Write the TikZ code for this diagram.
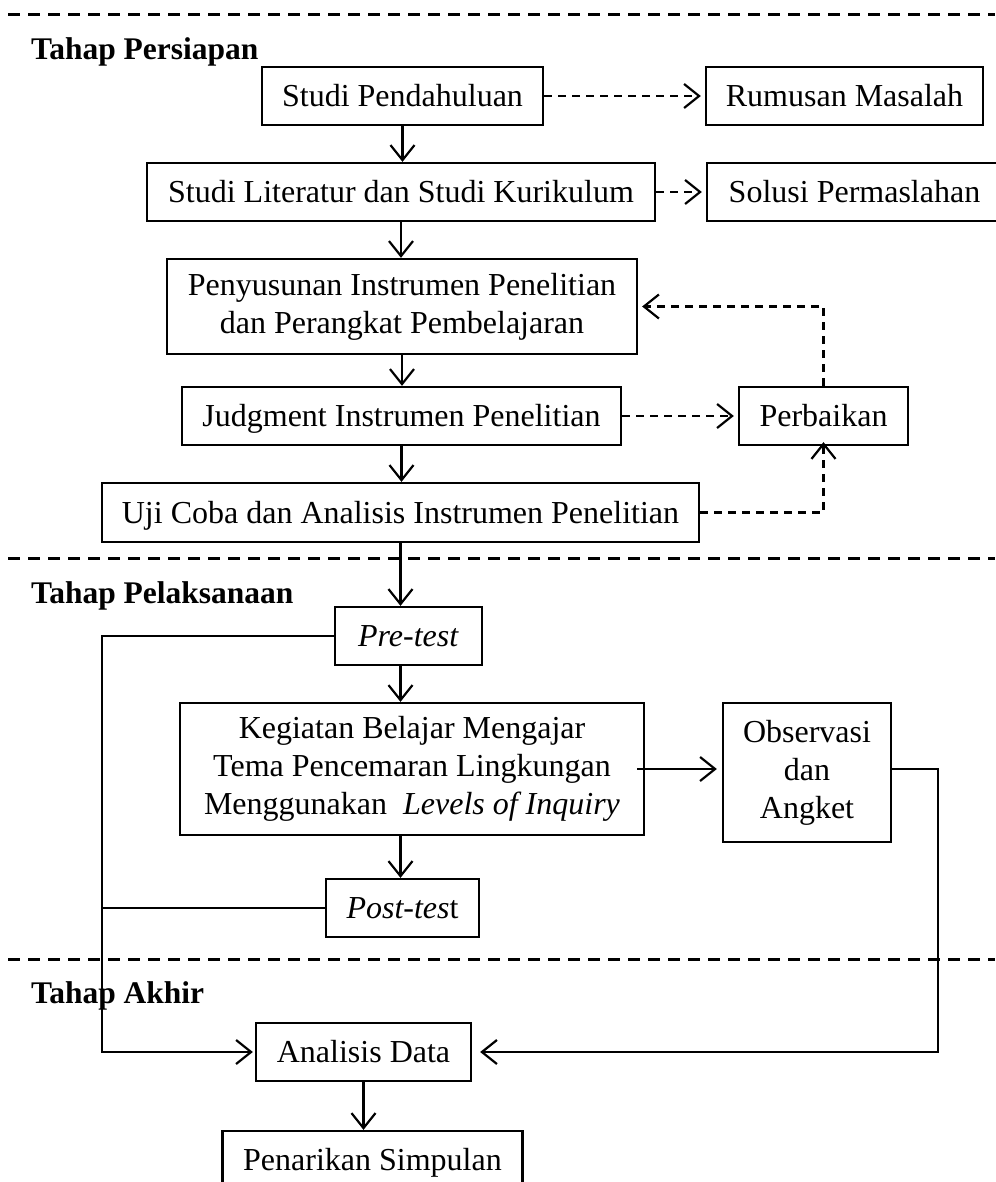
\documentclass[tikz,border=0pt]{standalone}
\usepackage{fontspec}
\setmainfont{Liberation Serif}
\usetikzlibrary{arrows.meta}
\begin{document}
\begin{tikzpicture}[x=1pt,y=-1pt,
  txt/.style={font=\fontsize{32}{38}\selectfont},
  box/.style={txt,draw,line width=2.3pt,inner sep=0pt,minimum height=58pt,align=center,text height=21.5pt,text depth=0pt},
  mbox/.style={txt,draw,line width=2.3pt,inner sep=0pt,align=center},
  lbl/.style={font=\fontsize{31.5}{37}\selectfont\bfseries,inner sep=0pt,anchor=base west},
  sep/.style={line width=3pt,dash pattern=on 12pt off 8pt},
  arr/.style={line width=2.2pt,-{Straight Barb[length=15pt,width=24pt,line width=2.2pt]}},
  darr/.style={arr,dash pattern=on 8pt off 6pt},
  ln/.style={line width=2.2pt}]
\useasboundingbox (0,0) rectangle (995,1182);
% separators
\draw[sep] (8,15) -- (995,15);
\draw[sep] (8,558) -- (995,558);
\draw[sep] (8,959) -- (995,959);
% phase labels
\node[lbl] (l1) at (31,60) {Tahap Persiapan};
\node[lbl] (l2) at (31,603) {Tahap Pelaksanaan};
\node[lbl] (l3) at (31,1003) {Tahap Akhir};
% boxes
\node[box,minimum width=281pt] (sp) at (402.5,96) {Studi Pendahuluan};
\node[box,minimum width=277pt] (rm) at (844.5,96) {Rumusan Masalah};
\node[box,minimum width=508pt] (sl) at (401,192) {Studi Literatur dan Studi Kurikulum};
\node[box,minimum width=295pt] (so) at (854.5,192) {Solusi Permaslahan};
\node[mbox,minimum width=470pt,minimum height=95pt] (pe) at (402,306.5) {Penyusunan Instrumen Penelitian\\dan Perangkat Pembelajaran};
\node[box,minimum width=439pt] (ju) at (401.5,416) {Judgment Instrumen Penelitian};
\node[box,minimum width=169pt] (pb) at (823.5,416) {Perbaikan};
\node[box,minimum width=597pt,minimum height=59pt] (uj) at (400.5,512.5) {Uji Coba dan Analisis Instrumen Penelitian};
\node[box,minimum width=147pt] (pr) at (408.5,636) {\textit{Pre-test}};
\node[mbox,minimum width=464pt,minimum height=132pt] (kb) at (412,769) {Kegiatan Belajar Mengajar\\Tema Pencemaran Lingkungan\\Menggunakan\ \ \textit{Levels of Inquiry}};
\node[mbox,minimum width=168pt,minimum height=139pt] (ob) at (807,772.5) {Observasi\\dan\\Angket};
\node[box,minimum width=153pt] (po) at (402.5,908) {\textit{Post-tes}t};
\node[box,minimum width=215pt] (ad) at (363.5,1052) {Analisis Data};
\node[box,minimum width=300pt] (ps) at (372.5,1160) {Penarikan Simpulan};
\coordinate (L) at (102,637);
\coordinate (R) at (938,769);
% solid arrows
\draw[arr] (sp.south) -- (sp.south |- sl.north);
\draw[arr] (sl.south) -- (sl.south |- pe.north);
\draw[arr] (pe.south) -- (pe.south |- ju.north);
\draw[arr] (ju.south) -- (ju.south |- uj.north);
\draw[arr] (uj.south) -- (uj.south |- pr.north);
\draw[arr] (pr.south -| uj.south) -- (kb.north -| uj.south);
\draw[arr] (kb.south -| uj.south) -- (po.north -| uj.south);
\draw[arr] ([xshift=-8pt]kb.east) -- ([xshift=-5pt]ob.west |- kb.east);
\draw[arr] (pr.west) -- (pr.west -| L) |- ([xshift=-2pt]ad.west);
\draw[ln] (po.west) -- (po.west -| L);
\draw[arr] (ob.east |- R) -- (R) |- ([xshift=8pt]ad.east);
\draw[arr] (ad.south) -- (ad.south |- ps.north);
% dashed arrows
\draw[darr] (sp.east) -- ([xshift=-4pt]rm.west);
\draw[darr] (sl.east) -- ([xshift=-4pt]so.west);
\draw[darr] (ju.east) -- ([xshift=-4pt]pb.west);
\draw[darr] (pb.north) |- ([xshift=4pt]pe.east);
\draw[darr] (uj.east) -| ([yshift=4pt]pb.south);
\end{tikzpicture}
\end{document}
